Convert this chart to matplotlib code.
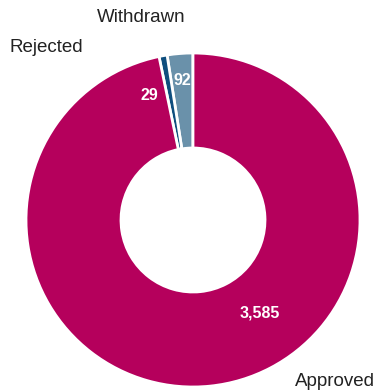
import numpy as np
import matplotlib
matplotlib.use("Agg")
import matplotlib.pyplot as plt

# application outcomes
categories = ["Withdrawn", "Rejected", "Approved"]
counts = [92, 29, 3585]
colors = ["#6A91AA", "#0F4E7E", "#B5005C"]

plt.rcParams['font.family'] = ['Liberation Sans', 'DejaVu Sans']

fig = plt.figure(figsize=(3.83, 3.92), dpi=100)
ax = fig.add_axes([0, 0, 1, 1])

# donut, first slice starts at 12 o'clock and runs anticlockwise
outer = 167
inner = 72
wedges, _ = ax.pie(counts, colors=colors, startangle=90, counterclock=True,
                   radius=outer, center=(0, 0),
                   wedgeprops=dict(width=outer - inner, edgecolor="white", linewidth=2))

# value labels: 92 sits in its slice, 29 just left of its thin slice
w = wedges[0]
mid = np.deg2rad((w.theta1 + w.theta2) / 2)
value_pos = [(140 * np.cos(mid), 140 * np.sin(mid)), (-44, 124), (67, -93)]
for (x, y), n in zip(value_pos, counts):
    ax.text(x, y, f"{n:,}", color="white", fontsize=11.5, fontweight="bold",
            ha="center", va="center")

# category names around the ring
name_pos = [(-52, 202), (-147, 172), (142, -162)]
for (x, y), name in zip(name_pos, categories):
    ax.text(x, y, name, fontsize=13.5, color="#222222", ha="center", va="center")

ax.set_xlim(-193, 190)
ax.set_ylim(-172, 220)
ax.set_aspect("equal")
ax.axis("off")

fig.savefig("out.png", dpi=100)
